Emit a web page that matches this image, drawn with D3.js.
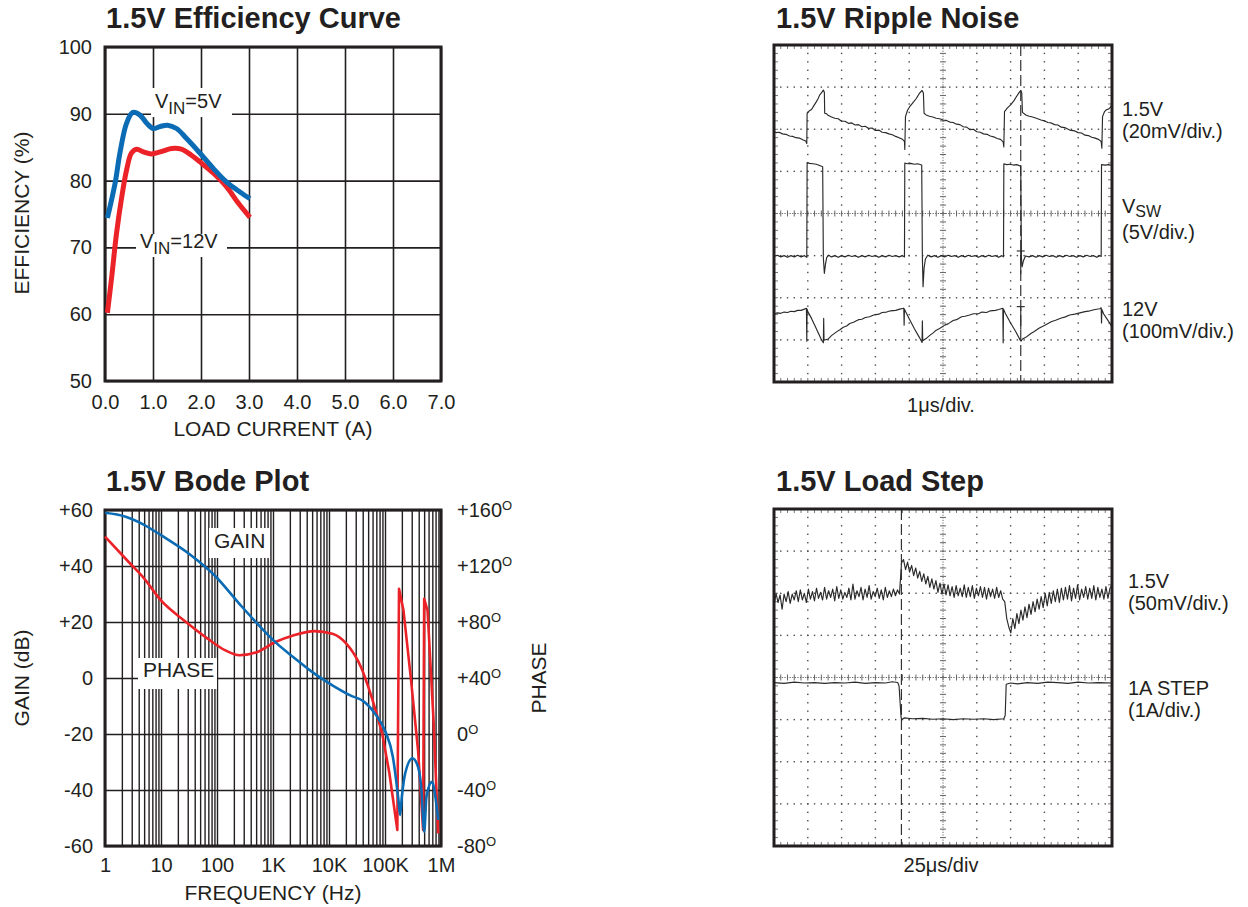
<!DOCTYPE html>
<html><head><meta charset="utf-8">
<script src="https://cdn.jsdelivr.net/npm/d3@7"></script>
<style>
body{margin:0;background:#fff}
svg text{font-family:"Liberation Sans",Arial,Helvetica,sans-serif;fill:#231f20}
</style>
</head><body>
<svg id="c" width="1248" height="907" xmlns="http://www.w3.org/2000/svg"></svg>
<script>
// ---------------- DATA ----------------
// Efficiency curve
const effXTicks = [0,1,2,3,4,5,6,7];
const effXLabels = ["0.0","1.0","2.0","3.0","4.0","5.0","6.0","7.0"];
const effYTicks = [50,60,70,80,90,100];
const effYLabels = ["50","60","70","80","90","100"];
const load5 = [0.05,0.21,0.31,0.45,0.58,0.73,0.87,1.0,1.15,1.3,1.49,1.7,1.98,2.26,2.53,2.81,3.02];
const eff5  = [74.4,79.6,84.1,88.6,90.2,89.8,88.6,87.8,88.1,88.3,87.8,86.3,84.1,81.8,79.8,78.3,77.3];
const load12 = [0.05,0.14,0.24,0.35,0.45,0.55,0.66,0.8,0.97,1.15,1.39,1.59,1.8,1.98,2.26,2.53,2.78,3.02];
const eff12  = [60.2,65.6,72.1,77.6,81.6,84.1,84.7,84.3,84.0,84.3,84.8,84.7,83.8,82.8,81.1,79.1,76.6,74.5];

// Bode plot
const freqTicks = [1,10,100,1e3,1e4,1e5,1e6];
const freqLabels = ["1","10","100","1K","10K","100K","1M"];
const gainTicks = [60,40,20,0,-20,-40,-60];
const gainLabels = ["+60","+40","+20","0","-20","-40","-60"];
const phaseTicks = [160,120,80,40,0,-40,-80];
const phaseLabels = ["+160","+120","+80","+40","0","-40","-80"];
const gainFreq = [1,2.34,4.9,10,32,91,251,525,1100,2290,5500,11500,24000,42700,66100,102000,138000,174000,186000,200000,229000,309000,389000,447000,501000,550000,692000,794000,891000];
const gainDb   = [59.0,57.6,54.8,51.0,44.3,36.6,26.5,19.4,12.8,7.5,1.55,-2.6,-6.2,-8.5,-12.7,-19.2,-28.1,-43.6,-48.9,-42.4,-34.1,-28.7,-31.7,-40.0,-54.9,-42.4,-37.1,-42.4,-50.7];
const phaseFreq = [1,2.7,4.9,10,28,68,141,251,525,1100,2290,5500,11500,20400,37200,57500,89100,120000,166000,178000,214000,288000,389000,479000,501000,575000,741000,891000];
const phaseDeg  = [141,122.5,111.5,95.4,80.0,68.1,59.7,56.2,58.6,65.7,70.4,73.5,71.6,64.5,47.8,26.5,0.4,-28.2,-68.6,103.7,88.2,40.7,-11.5,-68.6,96.6,88.2,7.5,-71.0];

// Ripple noise scope traces: [time (div, 1us/div), level (div above screen bottom)]
const rippleOut = [[0,5.94],[0.07,5.92],[0.15,5.93],[0.25,5.89],[0.35,5.88],[0.46,5.84],[0.55,5.83],[0.65,5.80],[0.75,5.79],[0.85,5.75],[0.94,5.72],[0.97,5.66],
[0.98,6.38],[1.05,6.44],[1.11,6.47],[1.18,6.56],[1.25,6.65],[1.30,6.72],[1.35,6.81],[1.42,6.88],[1.46,6.93],[1.49,6.88],[1.50,6.38],
[1.55,6.37],[1.6,6.33],[1.7,6.29],[1.8,6.26],[1.9,6.25],[2.0,6.19],[2.1,6.19],[2.2,6.14],[2.3,6.15],[2.4,6.10],[2.5,6.11],[2.6,6.06],[2.7,6.07],[2.8,6.02],[2.9,6.03],[3.0,5.97],[3.1,5.98],[3.2,5.93],[3.3,5.92],[3.4,5.89],[3.5,5.87],[3.6,5.83],[3.7,5.80],[3.8,5.76],[3.86,5.71],[3.87,5.52],
[3.89,6.30],[3.95,6.45],[4.01,6.53],[4.1,6.62],[4.21,6.73],[4.3,6.85],[4.38,6.92],[4.42,6.86],[4.44,6.38],
[4.5,6.34],[4.6,6.31],[4.7,6.29],[4.8,6.26],[4.9,6.25],[5.0,6.22],[5.1,6.21],[5.2,6.17],[5.3,6.16],[5.4,6.12],[5.5,6.11],[5.6,6.06],[5.7,6.05],[5.8,5.99],[5.9,6.00],[6.0,5.94],[6.1,5.93],[6.2,5.89],[6.3,5.88],[6.4,5.84],[6.5,5.82],[6.6,5.78],[6.7,5.76],[6.78,5.70],[6.80,5.58],
[6.82,6.42],[6.9,6.50],[7.0,6.58],[7.1,6.68],[7.17,6.77],[7.25,6.87],[7.30,6.92],[7.33,6.86],[7.35,6.40],
[7.45,6.34],[7.55,6.31],[7.65,6.29],[7.76,6.26],[7.9,6.22],[8.0,6.20],[8.1,6.16],[8.2,6.15],[8.3,6.11],[8.4,6.10],[8.5,6.05],[8.6,6.04],[8.75,5.98],[8.9,5.96],[9.0,5.92],[9.1,5.91],[9.2,5.86],[9.3,5.85],[9.4,5.81],[9.5,5.79],[9.6,5.76],[9.68,5.71],[9.70,5.55],
[9.72,6.30],[9.78,6.42],[9.83,6.46],[9.9,6.48],[9.95,6.52],[10,6.58]];
const rippleSw = [[0,2.98],[0.1,3.01],[0.2,2.97],[0.3,3.00],[0.4,2.96],[0.5,3.00],[0.6,2.97],[0.7,3.01],[0.8,2.97],[0.9,3.00],[0.97,2.96],
[0.98,5.21],[1.05,5.19],[1.15,5.18],[1.25,5.17],[1.35,5.14],[1.44,5.11],
[1.46,2.95],[1.49,2.58],[1.52,2.78],[1.56,2.96],[1.62,3.01],[1.7,2.97],[1.8,3.00],[1.9,2.96],[2.0,3.00],[2.1,2.97],[2.2,3.01],[2.3,2.98],[2.4,3.00],[2.5,2.96],[2.6,3.00],[2.7,2.97],[2.8,3.01],[2.9,2.98],[3.0,3.00],[3.1,2.96],[3.2,3.00],[3.3,2.97],[3.4,3.01],[3.5,2.98],[3.6,3.00],[3.7,2.97],[3.8,3.00],[3.86,2.97],
[3.87,5.20],[3.95,5.18],[4.05,5.19],[4.15,5.17],[4.25,5.18],[4.37,5.15],
[4.39,2.95],[4.41,2.26],[4.44,2.70],[4.48,2.92],[4.55,3.01],[4.65,2.97],[4.75,3.00],[4.85,2.96],[4.95,3.00],[5.05,2.97],[5.15,3.01],[5.25,2.98],[5.35,3.00],[5.45,2.96],[5.55,3.00],[5.65,2.97],[5.75,3.01],[5.85,2.98],[5.95,3.00],[6.05,2.96],[6.15,3.00],[6.25,2.97],[6.35,3.01],[6.45,2.98],[6.55,3.00],[6.65,2.96],[6.74,3.00],[6.79,2.97],
[6.80,5.18],[6.88,5.16],[6.98,5.17],[7.08,5.15],[7.18,5.16],[7.30,5.12],
[7.32,2.95],[7.34,2.73],[7.38,2.88],[7.44,2.99],[7.55,2.97],[7.65,3.00],[7.75,2.96],[7.85,3.00],[7.95,2.97],[8.05,3.01],[8.15,2.98],[8.25,3.00],[8.35,2.96],[8.45,3.00],[8.55,2.97],[8.65,3.01],[8.75,2.98],[8.85,3.00],[8.95,2.96],[9.05,3.00],[9.15,2.97],[9.25,3.01],[9.35,2.98],[9.45,3.00],[9.55,2.96],[9.64,3.00],[9.68,2.98],
[9.69,5.16],[9.8,5.15],[9.9,5.16],[10,5.14]];
const rippleIn = [[0,1.62],[0.1,1.64],[0.2,1.63],[0.3,1.66],[0.4,1.65],[0.5,1.68],[0.6,1.67],[0.7,1.70],[0.8,1.70],[0.9,1.73],[0.96,1.75],[0.97,0.97],[0.98,1.73],
[1.0,1.67],[1.11,1.51],[1.25,1.27],[1.40,1.01],[1.46,0.93],[1.47,1.51],[1.48,0.99],
[1.6,1.02],[1.7,1.10],[1.85,1.19],[1.95,1.24],[2.05,1.30],[2.15,1.33],[2.24,1.39],[2.35,1.42],[2.5,1.48],[2.6,1.49],[2.7,1.53],[2.83,1.55],[2.95,1.59],[3.1,1.61],[3.2,1.65],[3.33,1.66],[3.45,1.69],[3.6,1.70],[3.72,1.73],[3.84,1.75],[3.85,1.35],[3.86,1.73],
[3.9,1.66],[4.0,1.50],[4.15,1.27],[4.3,1.06],[4.38,0.94],[4.39,1.45],[4.40,0.98],
[4.5,1.03],[4.6,1.10],[4.7,1.16],[4.8,1.23],[4.9,1.27],[5.05,1.35],[5.15,1.38],[5.3,1.46],[5.4,1.48],[5.55,1.55],[5.65,1.56],[5.79,1.59],[5.9,1.62],[6.05,1.62],[6.15,1.66],[6.29,1.65],[6.4,1.69],[6.55,1.70],[6.65,1.72],[6.77,1.75],[6.78,0.93],[6.79,1.73],
[6.85,1.62],[7.0,1.40],[7.15,1.20],[7.28,1.00],[7.31,0.97],[7.35,1.02],[7.45,1.06],[7.6,1.15],[7.7,1.20],[7.85,1.28],[8.0,1.34],[8.2,1.43],[8.35,1.47],[8.5,1.52],[8.6,1.54],[8.75,1.59],[8.9,1.61],[9.05,1.64],[9.2,1.67],[9.35,1.69],[9.5,1.72],[9.64,1.74],[9.68,1.76],[9.69,1.40],[9.70,1.72],
[9.75,1.62],[9.85,1.50],[9.93,1.40],[10,1.30]];
const rippleTrigger = 7.30;
const rippleMarks = [3.11, 1.79];

// Load step scope: output samples, evenly spaced over the 10 divisions (25us/div)
const loadOut = [
5.70,6.00,5.78,5.96,5.62,5.98,5.80,6.04,5.76,5.98,5.84,6.06,
5.80,6.08,5.84,6.00,5.78,6.10,5.86,6.04,5.82,6.12,5.88,6.02,
5.84,6.14,5.86,6.06,5.90,6.10,5.82,6.16,5.88,6.08,5.86,6.02,
5.90,6.12,5.84,6.22,5.86,6.06,5.92,6.14,5.84,6.10,5.90,6.18,
5.86,6.04,5.92,6.12,5.88,6.08,5.84,6.14,5.90,6.06,5.92,6.10,
5.94,6.08,5.98,6.72,6.80,6.56,6.74,6.50,6.66,6.42,6.60,6.36,
6.52,6.28,6.46,6.22,6.40,6.14,6.34,6.10,6.30,6.02,6.24,5.98,
6.22,5.96,6.20,5.94,6.16,5.90,6.18,5.94,6.12,5.92,6.20,5.90,
6.14,5.92,6.18,5.88,6.12,5.94,6.16,5.90,6.14,5.86,6.12,5.92,
6.10,5.88,6.14,5.90,6.06,5.86,5.80,5.40,5.20,5.06,5.40,5.16,
5.52,5.28,5.60,5.36,5.68,5.42,5.74,5.50,5.80,5.56,5.86,5.62,
5.92,5.66,6.00,5.70,6.02,5.76,6.06,5.80,6.10,5.78,6.12,5.84,
6.14,5.86,6.18,5.82,6.12,5.88,6.20,5.84,6.10,5.90,6.16,5.86,
6.12,5.88,6.18,5.84,6.14,5.90,6.10,5.86,6.16,5.88,6.12,6.20];
const loadStep = [[0,3.88],[0.3,3.86],[0.6,3.89],[0.9,3.87],[1.2,3.88],[1.5,3.86],[1.8,3.88],[2.1,3.87],[2.4,3.89],[2.7,3.86],[3.0,3.88],[3.3,3.87],[3.5,3.90],[3.66,3.88],[3.70,3.80],[3.76,3.05],[3.78,3.00],[3.85,3.04],[4.1,3.02],[4.4,3.03],[4.7,3.01],[5.0,3.02],[5.3,3.00],[5.6,3.02],[5.9,3.01],[6.2,3.02],[6.5,3.00],[6.8,3.02],[6.84,3.10],[6.87,3.84],[7.0,3.87],[7.2,3.85],[7.5,3.88],[7.8,3.86],[8.1,3.89],[8.4,3.88],[8.7,3.86],[9.0,3.89],[9.3,3.87],[9.6,3.88],[10,3.87]];
const loadTrigger = 3.77;

// ---------------- DRAW ----------------
const INK = "#231f20";
const BLUE = "#0b6cb5";
const RED = "#ec2229";
const svg = d3.select("#c");

function txt(x, y, s, size, opts) {
  opts = opts || {};
  const t = svg.append("text").attr("x", x).attr("y", y).attr("font-size", size).text(s);
  if (opts.bold) t.attr("font-weight", "bold");
  if (opts.anchor) t.attr("text-anchor", opts.anchor);
  return t;
}
function rotTxt(x, y, s, size) {
  svg.append("text").attr("transform", `translate(${x},${y}) rotate(-90)`)
    .attr("text-anchor", "middle").attr("font-size", size).text(s);
}
function styleAxis(g, size) {
  g.select(".domain").remove();
  g.selectAll(".tick line").attr("stroke", INK).attr("stroke-width", 1.6);
  g.selectAll(".tick text").attr("font-size", size).attr("fill", INK)
    .attr("font-family", '"Liberation Sans",Arial,Helvetica,sans-serif');
  g.attr("font-family", null).attr("font-size", null);
}
function subLabel(x, y, main, sub, rest, size, subSize, drop) {
  const t = svg.append("text").attr("x", x).attr("y", y).attr("font-size", size);
  t.append("tspan").text(main);
  t.append("tspan").attr("font-size", subSize).attr("dy", drop).text(sub);
  if (rest) t.append("tspan").attr("dy", -drop).text(rest);
}

// ===== Efficiency curve =====
txt(106, 28, "1.5V Efficiency Curve", 29, {bold: true});
const ex = d3.scaleLinear([0, 7], [105, 441]);
const ey = d3.scaleLinear([50, 100], [381, 47]);
{
  const gx = svg.append("g").attr("transform", "translate(0,381)")
    .call(d3.axisBottom(ex).tickValues(effXTicks).tickSize(-334).tickPadding(14)
      .tickFormat((d, i) => effXLabels[i]));
  styleAxis(gx, 20);
  const gy = svg.append("g").attr("transform", "translate(105,0)")
    .call(d3.axisLeft(ey).tickValues(effYTicks).tickSize(-336).tickPadding(13)
      .tickFormat((d, i) => effYLabels[i]));
  styleAxis(gy, 20);
  svg.append("rect").attr("x", 105).attr("y", 47).attr("width", 336).attr("height", 334)
    .attr("fill", "none").attr("stroke", INK).attr("stroke-width", 3);
  // label boxes
  svg.append("rect").attr("x", 151).attr("y", 88).attr("width", 81).attr("height", 29).attr("fill", "#fff");
  svg.append("rect").attr("x", 136).attr("y", 234).attr("width", 91).attr("height", 23).attr("fill", "#fff");
  subLabel(155, 108, "V", "IN", "=5V", 20, 17, 6);
  subLabel(140, 248, "V", "IN", "=12V", 20, 17, 6);
  const line = d3.line().x(d => ex(d[0])).y(d => ey(d[1])).curve(d3.curveCatmullRom.alpha(0.5));
  svg.append("path").attr("d", line(d3.zip(load12, eff12))).attr("fill", "none")
    .attr("stroke", RED).attr("stroke-width", 5);
  svg.append("path").attr("d", line(d3.zip(load5, eff5))).attr("fill", "none")
    .attr("stroke", BLUE).attr("stroke-width", 5);
  txt(273, 436, "LOAD CURRENT (A)", 21, {anchor: "middle"});
  rotTxt(29, 213, "EFFICIENCY (%)", 21);
}

// ===== Bode plot =====
txt(106, 491, "1.5V Bode Plot", 29, {bold: true});
const bx = d3.scaleLog([1, 1e6], [105, 441]);
const by = d3.scaleLinear([-60, 60], [846, 510]);
const bp = d3.scaleLinear([-80, 160], [846, 510]);
{
  const gridX = svg.append("g").attr("transform", "translate(0,846)")
    .call(d3.axisBottom(bx).tickValues(bx.ticks()).tickSize(-336).tickFormat(""));
  styleAxis(gridX, 20);
  gridX.selectAll(".tick line").attr("stroke-width", 1.4);
  const labX = svg.append("g").attr("transform", "translate(0,846)")
    .call(d3.axisBottom(bx).tickValues(freqTicks).tickSize(0).tickPadding(12)
      .tickFormat((d, i) => freqLabels[i]));
  styleAxis(labX, 20);
  const gy = svg.append("g").attr("transform", "translate(105,0)")
    .call(d3.axisLeft(by).tickValues(gainTicks).tickSize(-336).tickPadding(12)
      .tickFormat((d, i) => gainLabels[i]));
  styleAxis(gy, 20);
  const gp = svg.append("g").attr("transform", "translate(441,0)")
    .call(d3.axisRight(bp).tickValues(phaseTicks).tickSize(0).tickPadding(16).tickFormat(""));
  styleAxis(gp, 20);
  gp.selectAll(".tick text").each(function (d, i) {
    const t = d3.select(this);
    t.text(null);
    t.append("tspan").text(phaseLabels[i]);
    t.append("tspan").attr("font-size", 13).attr("dy", "-0.5em").text("O");
  });
  svg.append("rect").attr("x", 105).attr("y", 510).attr("width", 336).attr("height", 336)
    .attr("fill", "none").attr("stroke", INK).attr("stroke-width", 3);
  svg.append("rect").attr("x", 209).attr("y", 528).attr("width", 60).attr("height", 30).attr("fill", "#fff");
  svg.append("rect").attr("x", 138).attr("y", 658).attr("width", 79).attr("height", 31).attr("fill", "#fff");
  txt(214, 548, "GAIN", 21);
  txt(143, 677, "PHASE", 21);
  const gl = d3.line().x(d => bx(d[0])).y(d => by(d[1])).curve(d3.curveMonotoneX);
  const pl = d3.line().x(d => bx(d[0])).y(d => bp(d[1])).curve(d3.curveMonotoneX);
  const plLin = d3.line().x(d => bx(d[0])).y(d => bp(d[1]));
  const phasePts = d3.zip(phaseFreq, phaseDeg);
  const split = phaseFreq.indexOf(89100);
  svg.append("path").attr("d", pl(phasePts.slice(0, split + 1))).attr("fill", "none")
    .attr("stroke", RED).attr("stroke-width", 2.6).attr("stroke-linejoin", "round");
  svg.append("path").attr("d", plLin(phasePts.slice(split))).attr("fill", "none")
    .attr("stroke", RED).attr("stroke-width", 2.6).attr("stroke-linejoin", "round");
  svg.append("path").attr("d", gl(d3.zip(gainFreq, gainDb))).attr("fill", "none")
    .attr("stroke", BLUE).attr("stroke-width", 2.6).attr("stroke-linejoin", "round");
  txt(273, 900, "FREQUENCY (Hz)", 21, {anchor: "middle"});
  rotTxt(29, 678, "GAIN (dB)", 21);
  rotTxt(546, 678, "PHASE", 21);
}

// ===== Scope screens =====
function drawScope(top, traces, trig, marks) {
  const sx = d3.scaleLinear([0, 10], [774, 1112]);
  const sy = d3.scaleLinear([0, 8], [top + 337, top]);
  const g = svg.append("g");
  const tMinor = d3.range(1, 50).map(i => i * 0.2);
  const vMinor = d3.range(1, 40).map(i => i * 0.2);
  const dotC = "#4a4a4a";
  [1, 2, 3, 5, 6, 7].forEach(k => {
    g.append("g").selectAll("rect").data(tMinor).join("rect")
      .attr("x", d => sx(d) - 0.7).attr("y", sy(k) - 0.7).attr("width", 1.4).attr("height", 1.4).attr("fill", dotC);
  });
  [1, 2, 3, 4, 6, 7, 8, 9].forEach(k => {
    g.append("g").selectAll("rect").data(vMinor).join("rect")
      .attr("x", sx(k) - 0.7).attr("y", d => sy(d) - 0.7).attr("width", 1.4).attr("height", 1.4).attr("fill", dotC);
  });
  // center axes with fine ticks
  g.append("line").attr("x1", sx(0)).attr("x2", sx(10)).attr("y1", sy(4)).attr("y2", sy(4))
    .attr("stroke", "#666").attr("stroke-width", 1).attr("stroke-dasharray", "1.2 1.4");
  g.append("line").attr("x1", sx(5)).attr("x2", sx(5)).attr("y1", sy(0)).attr("y2", sy(8))
    .attr("stroke", "#666").attr("stroke-width", 1).attr("stroke-dasharray", "1.2 1.4");
  g.append("g").selectAll("line").data(tMinor).join("line")
    .attr("x1", d => sx(d)).attr("x2", d => sx(d)).attr("y1", sy(4) - 3).attr("y2", sy(4) + 3)
    .attr("stroke", "#666").attr("stroke-width", 1);
  g.append("g").selectAll("line").data(vMinor).join("line")
    .attr("y1", d => sy(d)).attr("y2", d => sy(d)).attr("x1", sx(5) - 3).attr("x2", sx(5) + 3)
    .attr("stroke", "#666").attr("stroke-width", 1);
  // border ticks
  [[sy(8), 1], [sy(0), -1]].forEach(([yy, s]) => {
    g.append("g").selectAll("line").data(tMinor).join("line")
      .attr("x1", d => sx(d)).attr("x2", d => sx(d)).attr("y1", yy).attr("y2", yy + s * 4)
      .attr("stroke", "#777").attr("stroke-width", 1);
  });
  [[sx(0), 1], [sx(10), -1]].forEach(([xx, s]) => {
    g.append("g").selectAll("line").data(vMinor).join("line")
      .attr("y1", d => sy(d)).attr("y2", d => sy(d)).attr("x1", xx).attr("x2", xx + s * 4)
      .attr("stroke", "#777").attr("stroke-width", 1);
  });
  // trigger / cursor line
  g.append("line").attr("x1", sx(trig)).attr("x2", sx(trig)).attr("y1", sy(8)).attr("y2", sy(0))
    .attr("stroke", "#333").attr("stroke-width", 1.2).attr("stroke-dasharray", "11 4");
  (marks || []).forEach(m => {
    g.append("line").attr("x1", sx(trig) - 4).attr("x2", sx(trig) + 4).attr("y1", sy(m)).attr("y2", sy(m))
      .attr("stroke", "#333").attr("stroke-width", 1.2);
    g.append("line").attr("x1", sx(trig)).attr("x2", sx(trig)).attr("y1", sy(m)).attr("y2", sy(m - 0.55))
      .attr("stroke", "#333").attr("stroke-width", 1.2);
  });
  const ln = d3.line().x(d => sx(d[0])).y(d => sy(d[1]));
  traces.forEach(tr => {
    g.append("path").attr("d", ln(tr)).attr("fill", "none").attr("stroke", "#2a2a2a")
      .attr("stroke-width", 1.15).attr("stroke-linejoin", "round");
  });
  g.append("rect").attr("x", sx(0)).attr("y", sy(8)).attr("width", sx(10) - sx(0)).attr("height", sy(0) - sy(8))
    .attr("fill", "none").attr("stroke", INK).attr("stroke-width", 3);
}

// Ripple noise
txt(776, 28, "1.5V Ripple Noise", 29, {bold: true});
drawScope(45, [rippleOut, rippleSw, rippleIn], rippleTrigger, rippleMarks);
txt(1122, 116, "1.5V", 20);
txt(1122, 138, "(20mV/div.)", 20);
subLabel(1122, 213, "V", "SW", null, 20, 16, 4);
txt(1122, 239, "(5V/div.)", 20);
txt(1122, 316, "12V", 20);
txt(1122, 338, "(100mV/div.)", 20);
txt(941, 412, "1\u03BCs/div.", 20, {anchor: "middle"});

// Load step
txt(776, 491, "1.5V Load Step", 29, {bold: true});
const loadOutPts = loadOut.map((v, i) => [i * 10 / (loadOut.length - 1), v]);
drawScope(509, [loadOutPts, loadStep], loadTrigger, []);
txt(1128, 588, "1.5V", 20);
txt(1128, 610, "(50mV/div.)", 20);
txt(1128, 695, "1A STEP", 20);
txt(1128, 717, "(1A/div.)", 20);
txt(941, 872, "25\u03BCs/div", 20, {anchor: "middle"});
</script>
</body></html>
